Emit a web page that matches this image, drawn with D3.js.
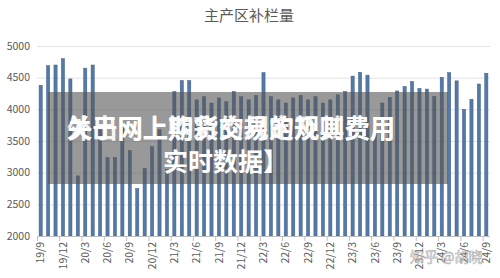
<!DOCTYPE html>
<html>
<head>
<meta charset="utf-8">
<script src="https://cdn.jsdelivr.net/npm/d3@7"></script>
<style>
  body { margin: 0; background: #fff; }
  svg text { font-family: "Noto Sans CJK SC", "Open Sans", sans-serif; }
</style>
</head>
<body>
<div id="chartContainer"></div>
<script>
// months from 19/9 to 24/9
var months = [];
for (var yr = 19, mo = 9; yr < 24 || (yr === 24 && mo <= 9); ) {
  months.push(yr + "/" + mo);
  mo++;
  if (mo > 12) { mo = 1; yr++; }
}

// 补栏量 per month
var values = [
  4380, 4690, 4700, 4800, 4480, 2950, 4650, 4700, 3680, 3240,
  3240, 3720, 3350, 2750, 3070, 3410, 3680, 3050, 4280, 4455,
  4455, 4150, 4200, 4100, 4180, 4120, 4280, 4200, 4150, 4220,
  4580, 4200, 4150, 4100, 4180, 4220, 4150, 4200, 4100, 4150,
  4230, 4280, 4525, 4585, 4540, 3820, 4100, 4190, 4290, 4360,
  4440, 4330, 4320, 4200, 4505, 4580, 4450, 4000, 4160, 4400,
  4570
];

var tickLabels = ["19/9", "19/12", "20/3", "20/6", "20/9", "20/12", "21/3", "21/6",
  "21/9", "21/12", "22/3", "22/6", "22/9", "22/12", "23/3", "23/6", "23/9",
  "23/12", "24/3", "24/6", "24/9"];

var yTicks = [2000, 2500, 3000, 3500, 4000, 4500, 5000];

var width = 500, height = 278;
var svg = d3.select("#chartContainer").append("svg")
    .attr("width", width)
    .attr("height", height);

// chart title
svg.append("text")
    .attr("x", 249)
    .attr("y", 21)
    .attr("text-anchor", "middle")
    .style("font-size", "15px")
    .style("fill", "#595959")
    .text("主产区补栏量");

var x = d3.scaleBand()
    .domain(months)
    .range([37, 490])
    .paddingInner(0.57)
    .paddingOuter(0.28);

var y = d3.scaleLinear()
    .domain([2000, 5000])
    .range([236, 46]);

// gridlines
svg.append("g")
    .selectAll("line")
    .data(yTicks.slice(1))
    .enter()
    .append("line")
    .attr("x1", 37)
    .attr("x2", 490)
    .attr("y1", function (d) { return y(d) + 0.5; })
    .attr("y2", function (d) { return y(d) + 0.5; })
    .style("stroke", "#e3e3e3")
    .style("stroke-width", 1);

// y labels
svg.append("g")
    .selectAll("text")
    .data(yTicks)
    .enter()
    .append("text")
    .attr("x", 30)
    .attr("y", function (d) { return y(d); })
    .attr("dy", "0.35em")
    .attr("text-anchor", "end")
    .style("font-size", "10.5px")
    .style("fill", "#595959")
    .text(function (d) { return d; });

// bars
svg.append("g")
    .selectAll("rect")
    .data(values)
    .enter()
    .append("rect")
    .attr("x", function (d, i) { return x(months[i]); })
    .attr("width", x.bandwidth())
    .attr("y", function (d) { return y(d); })
    .attr("height", function (d) { return y(2000) - y(d); })
    .style("fill", "#5479a6")
    .style("stroke", "#3f628e")
    .style("stroke-width", 0.5);

// x axis line
svg.append("line")
    .attr("x1", 37)
    .attr("x2", 490)
    .attr("y1", 236.5)
    .attr("y2", 236.5)
    .style("stroke", "#bfbfbf");

var xAxis = svg.append("g");
xAxis.selectAll("line")
    .data(tickLabels)
    .enter()
    .append("line")
    .attr("x1", function (d) { return x(d) - (x.step() - x.bandwidth()) / 2 + 0.5; })
    .attr("x2", function (d) { return x(d) - (x.step() - x.bandwidth()) / 2 + 0.5; })
    .attr("y1", 236)
    .attr("y2", 241)
    .style("stroke", "#bfbfbf");

xAxis.selectAll("text")
    .data(tickLabels)
    .enter()
    .append("text")
    .attr("transform", function (d) {
      return "translate(" + (x(d) + x.bandwidth() / 2) + ",242) rotate(-90)";
    })
    .attr("dy", "0.35em")
    .attr("text-anchor", "end")
    .style("font-size", "10.5px")
    .style("fill", "#595959")
    .text(function (d) { return d; });

// watermark
svg.append("text")
    .attr("x", 410)
    .attr("y", 262)
    .style("font-size", "14px")
    .style("fill", "#ffffff")
    .style("stroke", "#9a9a9a")
    .style("stroke-width", 0.6)
    .style("opacity", 0.8)
    .text("知乎 @胡晓");

// overlay box with caption
svg.append("rect")
    .attr("x", 48)
    .attr("y", 92)
    .attr("width", 400)
    .attr("height", 92)
    .style("fill", "#555555")
    .style("opacity", 0.6);

svg.append("text")
    .attr("x", 67)
    .attr("y", 138)
    .attr("textLength", 328)
    .attr("lengthAdjust", "spacingAndGlyphs")
    .style("font-size", "26px")
    .style("font-weight", "bold")
    .style("fill", "#ffffff")
    .text("关于网上期货交易的规则费用");

svg.append("text")
    .attr("x", 67)
    .attr("y", 138)
    .attr("textLength", 328)
    .attr("lengthAdjust", "spacingAndGlyphs")
    .style("font-size", "26px")
    .style("font-weight", "bold")
    .style("fill", "#ffffff")
    .style("opacity", 0.9)
    .text("外出网上购彩的规定及其费用");

svg.append("text")
    .attr("x", 163)
    .attr("y", 171)
    .style("font-size", "25px")
    .style("font-weight", "bold")
    .style("fill", "#ffffff")
    .text("实时数据】");
</script>
</body>
</html>
